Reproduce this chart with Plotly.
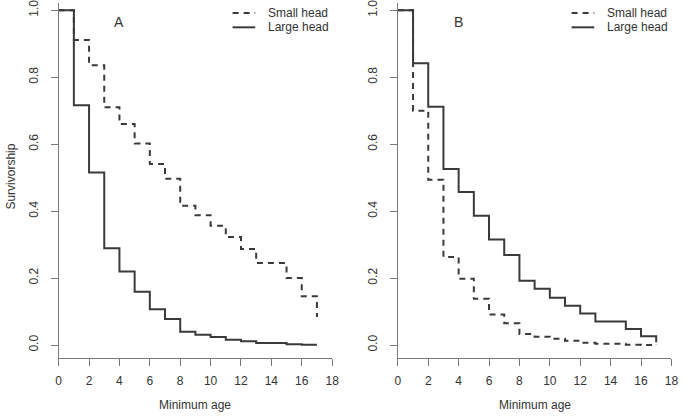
import plotly.graph_objects as go

W, H = 685, 417

ages = list(range(18))  # 0..17

# Panel A
a_small = [1.0, 0.911, 0.836, 0.710, 0.660, 0.602, 0.541, 0.497, 0.416, 0.388,
           0.356, 0.323, 0.287, 0.245, 0.245, 0.200, 0.146, 0.084]
a_large = [1.0, 0.716, 0.515, 0.289, 0.220, 0.159, 0.107, 0.078, 0.040, 0.031,
           0.024, 0.016, 0.011, 0.006, 0.006, 0.002, 0.001, 0.001]
# Panel B
b_small = [1.0, 0.700, 0.494, 0.263, 0.198, 0.138, 0.091, 0.065, 0.033, 0.025,
           0.019, 0.013, 0.007, 0.004, 0.004, 0.001, 0.0, 0.003]
b_large = [1.0, 0.842, 0.712, 0.526, 0.457, 0.386, 0.315, 0.269, 0.192, 0.168,
           0.141, 0.117, 0.094, 0.070, 0.070, 0.048, 0.026, 0.008]

panel_labels = ["A", "B"]
legend_names = ["Small head", "Large head"]
x_ticks = list(range(0, 19, 2))
y_ticks = [0.0, 0.2, 0.4, 0.6, 0.8, 1.0]
x_title = "Minimum age"
y_title = "Survivorship"

FONT = "Liberation Sans, Arial, Helvetica, sans-serif"
TXT = "#333333"
AXC = "#7a7a7a"
LINEC = "#3a3a3a"

fig = go.Figure()

def add_panel(idx, small, large):
    xa = "x" if idx == 0 else "x2"
    ya = "y" if idx == 0 else "y2"
    fig.add_trace(go.Scatter(x=ages, y=small, mode="lines", line_shape="hv",
                             line=dict(color=LINEC, width=2, dash="6px,5px"),
                             xaxis=xa, yaxis=ya, showlegend=False))
    fig.add_trace(go.Scatter(x=ages, y=large, mode="lines", line_shape="hv",
                             line=dict(color=LINEC, width=2),
                             xaxis=xa, yaxis=ya, showlegend=False))

add_panel(0, a_small, a_large)
add_panel(1, b_small, b_large)

x0A, x1A = 56.5, 334.0
x0B, x1B = 400.7, 678.3
ybot = 358.0

ytop_val = 1.0 + 7.3 / 337.0
axis_common = dict(showgrid=False, zeroline=False, showline=True, linecolor=AXC,
                   linewidth=1, ticks="outside", tickcolor=AXC, ticklen=7,
                   ticklabeloverflow="allow",
                   tickfont=dict(family=FONT, size=12, color=TXT))
xax = dict(range=[0, 18], tickvals=x_ticks, ticklabelstandoff=4, **axis_common)
yax = dict(range=[-0.04, ytop_val], tickvals=y_ticks,
           ticktext=[f"{v:.1f}" for v in y_ticks], tickangle=-90,
           ticklabelstandoff=8, domain=[(H - ybot) / H, 1.0], **axis_common)

fig.update_layout(
    width=W, height=H,
    margin=dict(l=0, r=0, t=0, b=0),
    paper_bgcolor="white", plot_bgcolor="white",
    font=dict(family=FONT, size=12, color=TXT),
    xaxis=dict(domain=[x0A / W, x1A / W], anchor="y", **xax),
    yaxis=dict(anchor="x", **yax),
    xaxis2=dict(domain=[x0B / W, x1B / W], anchor="y2", **xax),
    yaxis2=dict(anchor="x2", **yax),
)

annotations = []
shapes = []
for i, (x0, x1) in enumerate([(x0A, x1A), (x0B, x1B)]):
    annotations.append(dict(text=x_title, x=(x0 + x1) / 2 / W, y=1 - 405 / H,
                            xref="paper", yref="paper", showarrow=False,
                            xanchor="center", yanchor="middle",
                            font=dict(family=FONT, size=12, color=TXT)))
    lx = 118 if i == 0 else 462.7
    annotations.append(dict(text=panel_labels[i], x=lx / W, y=1 - 19 / H,
                            xref="paper", yref="paper", showarrow=False,
                            xanchor="center", yanchor="middle",
                            font=dict(family=FONT, size=14, color=TXT)))
    lx0 = 233 if i == 0 else 577
    lx1 = lx0 + 23
    tx = 267 if i == 0 else 611
    for j, (yy, dash) in enumerate([(10, "6px,5px"), (24.5, "solid")]):
        shapes.append(dict(type="line", xref="paper", yref="paper",
                           x0=lx0 / W, x1=lx1 / W, y0=1 - yy / H, y1=1 - yy / H,
                           line=dict(color=LINEC, width=2, dash=dash)))
        annotations.append(dict(text=legend_names[j], x=tx / W, y=1 - yy / H,
                                xref="paper", yref="paper", showarrow=False,
                                xanchor="left", yanchor="middle",
                                font=dict(family=FONT, size=12, color=TXT)))

annotations.append(dict(text=y_title, x=8 / W, y=1 - 175 / H, xref="paper",
                        yref="paper", showarrow=False, textangle=-90,
                        xanchor="center", yanchor="middle",
                        font=dict(family=FONT, size=12, color=TXT)))

fig.update_layout(annotations=annotations, shapes=shapes)
fig.write_html("out.html", config={"displayModeBar": False},
               post_script="document.body.style.margin='0';document.body.style.overflow='hidden';")
